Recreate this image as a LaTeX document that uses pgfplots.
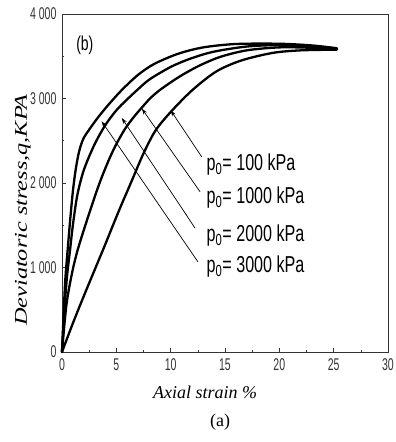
\documentclass[border=0pt]{standalone}
\usepackage{fontspec}
\usepackage{pgfplots}
\pgfplotsset{compat=1.18}
\usetikzlibrary{arrows.meta}
\setmainfont{Liberation Serif}
\newfontfamily\narrowsans[FakeStretch=0.62]{Liberation Sans}
\newfontfamily\labelsans[FakeStretch=0.70]{Liberation Sans}
\newfontfamily\widesserif[FakeStretch=1.35]{Liberation Serif}

\begin{document}
\begin{tikzpicture}[x=1pt,y=1pt]
\useasboundingbox (-62,-90) rectangle (334,352);
\begin{axis}[
  at={(0,0)}, anchor=south west,
  width=326pt, height=338pt, scale only axis,
  xmin=0, xmax=30, ymin=0, ymax=4000,
  axis line style={line width=0.7pt, black!80},
  xtick={0,5,10,15,20,25,30},
  xticklabels={0,5,10,15,20,25,30},
  ytick={0,1000,2000,3000,4000},
  yticklabels={0,1\,000,2\,000,3\,000,4\,000},
  minor x tick num=1,
  minor y tick num=1,
  xtick pos=bottom, ytick pos=left,
  tick align=inside,
  major tick length=4pt, minor tick length=2.5pt,
  tick style={line width=0.6pt, black!80},
  tick label style={font=\narrowsans\fontsize{17}{17}\selectfont, text=black!80},
  xticklabel style={yshift=-3pt},
  yticklabel style={xshift=-2pt},
  xlabel={\itshape Axial strain \%},
  xlabel style={font=\fontsize{18}{18}\selectfont, at={(axis description cs:0.439,-0.118)}, anchor=center},
  ylabel={\widesserif\itshape Deviatoric stress,q,KPA},
  ylabel style={font=\fontsize{18}{18}\selectfont, at={(axis description cs:-0.12,0.42)}, anchor=center},
  clip=false,
  every axis plot/.append style={black, line cap=round, line join=round},
]

% p0 = 3000 kPa (steepest start, sharp knee)
\addplot[line width=2.3pt, smooth, tension=0.5] coordinates {
  (0,0) (0.15,450) (0.3,850) (0.52,1207) (0.75,1560) (1.0,1900) (1.25,2150)
  (1.55,2360) (1.95,2520) (2.6,2650) (3.4,2790) (4.3,2930) (5.5,3100) (7,3280)
  (8.5,3410) (10.7,3530) (13,3605) (16,3645) (20,3648) (23,3628) (25.3,3595)};

% p0 = 2000 kPa
\addplot[line width=2.3pt, smooth, tension=0.5] coordinates {
  (0,0) (0.2,450) (0.45,880) (0.74,1207) (1.0,1500) (1.4,1850) (2.0,2150)
  (2.97,2450) (3.96,2680) (5.0,2860) (6,2990) (7.0,3110) (8.1,3230) (10.1,3380)
  (12,3480) (14,3555) (17,3615) (20,3632) (23,3615) (25.3,3590)};

% p0 = 1000 kPa
\addplot[line width=2.3pt, smooth, tension=0.5] coordinates {
  (0,0) (0.4,550) (0.9,920) (1.44,1207) (2.4,1600) (3.4,1980) (4.3,2270)
  (5.0,2460) (5.8,2640) (6.6,2780) (7.4,2900) (8.1,3000) (9,3100) (10.7,3250)
  (12.5,3380) (14.5,3490) (17,3570) (20,3605) (23,3600) (25.3,3582)};

% p0 = 100 kPa
\addplot[line width=2.3pt, smooth, tension=0.5] coordinates {
  (0,0) (1,340) (2,660) (3,970) (4,1280) (5.2,1660) (6.4,2020) (7.5,2350)
  (8.6,2620) (10,2840) (12,3100) (14.2,3320) (16.5,3450) (19.4,3540)
  (22,3570) (25.3,3578)};

% leader lines from the labels to the curves
\addplot[line width=0.7pt, -{Stealth[length=6pt,width=4pt]}] coordinates {(12.85,2311) (10.0,2860)};
\addplot[line width=0.7pt, -{Stealth[length=6pt,width=4pt]}] coordinates {(12.70,1897) (7.35,2880)};
\addplot[line width=0.7pt, -{Stealth[length=6pt,width=4pt]}] coordinates {(12.24,1467) (5.5,2770)};
\addplot[line width=0.7pt, -{Stealth[length=6pt,width=4pt]}] coordinates {(12.50,1069) (3.65,2730)};

\node[anchor=west, font=\labelsans\fontsize{23}{23}\selectfont, inner sep=0pt] at (axis cs:13.3,2213) {p\textsubscript{0}= 100 kPa};
\node[anchor=west, font=\labelsans\fontsize{23}{23}\selectfont, inner sep=0pt] at (axis cs:13.3,1822) {p\textsubscript{0}= 1000 kPa};
\node[anchor=west, font=\labelsans\fontsize{23}{23}\selectfont, inner sep=0pt] at (axis cs:13.3,1373) {p\textsubscript{0}= 2000 kPa};
\node[anchor=west, font=\labelsans\fontsize{23}{23}\selectfont, inner sep=0pt] at (axis cs:13.3,1006) {p\textsubscript{0}= 3000 kPa};

\node[font=\labelsans\fontsize{20}{20}\selectfont] at (axis description cs:0.07,0.908) {(b)};
\node[font=\fontsize{18}{18}\selectfont] at (axis description cs:0.485,-0.208) {(a)};
\end{axis}
\end{tikzpicture}
\end{document}
